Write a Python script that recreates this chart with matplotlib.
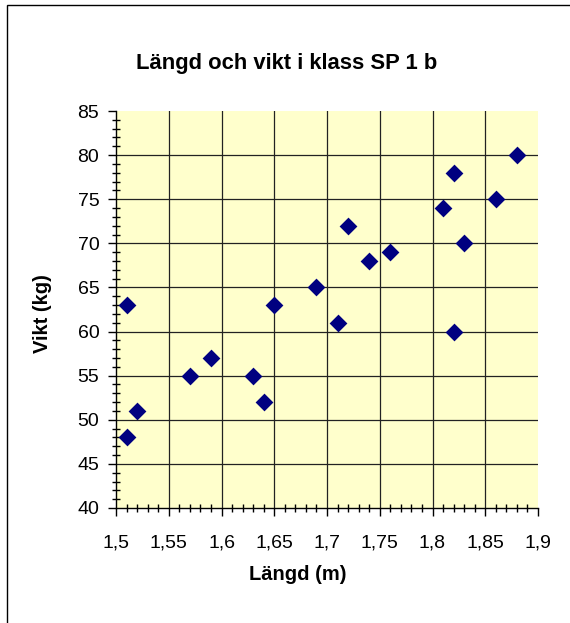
import numpy as np
import matplotlib
matplotlib.use("Agg")
import matplotlib.pyplot as plt
from matplotlib.ticker import MultipleLocator, FuncFormatter
from matplotlib.patches import Rectangle

plt.rcParams['font.family'] = ['Liberation Sans', 'DejaVu Sans']

# Längd (m) och vikt (kg) för eleverna
langd = [1.51, 1.51, 1.52, 1.57, 1.59, 1.63, 1.64, 1.65, 1.69, 1.71,
         1.72, 1.74, 1.76, 1.81, 1.82, 1.82, 1.83, 1.86, 1.88]
vikt = [63, 48, 51, 55, 57, 55, 52, 63, 65, 61,
        72, 68, 69, 74, 78, 60, 70, 75, 80]

title = "Längd och vikt i klass SP 1 b"
xlabel = "Längd (m)"
ylabel = "Vikt (kg)"

fig = plt.figure(figsize=(5.7, 6.23), dpi=100)
ax = fig.add_axes([116/570, 1 - 508/623, (538 - 116)/570, (508 - 111)/623])

ax.set_facecolor('#FFFFCC')
ax.scatter(langd, vikt, marker='D', s=82, color='#000080', zorder=3,
           clip_on=False, linewidths=0)

ax.set_xlim(1.5, 1.9)
ax.set_ylim(40, 85)

ax.xaxis.set_major_locator(MultipleLocator(0.05))
ax.xaxis.set_minor_locator(MultipleLocator(0.01))
ax.yaxis.set_major_locator(MultipleLocator(5))
ax.yaxis.set_minor_locator(MultipleLocator(1))

comma = FuncFormatter(lambda v, p: f"{v:g}".replace('.', ','))
ax.xaxis.set_major_formatter(comma)
ax.yaxis.set_major_formatter(FuncFormatter(lambda v, p: f"{v:.0f}"))

ax.tick_params(which='major', direction='out', length=6, width=1,
               color='black', labelsize=14)
ax.tick_params(which='minor', direction='inout', length=6, width=1,
               color='black')
ax.tick_params(axis='x', which='major', pad=13)
ax.tick_params(axis='y', which='major', pad=6)

ax.grid(True, which='major', color='#222222', linewidth=0.9)
ax.set_axisbelow(True)
# Excel draws no gridline at the top/right edge
xt = ax.xaxis.get_major_ticks()
yt = ax.yaxis.get_major_ticks()
for t, v in zip(xt, ax.get_xticks()):
    if np.isclose(v, 1.9) or np.isclose(v, 1.5):
        t.gridline.set_visible(False)
for t, v in zip(yt, ax.get_yticks()):
    if np.isclose(v, 85) or np.isclose(v, 40):
        t.gridline.set_visible(False)

for s in ['top', 'right']:
    ax.spines[s].set_visible(False)
for s in ['left', 'bottom']:
    ax.spines[s].set_color('black')
    ax.spines[s].set_linewidth(1)

fig.text(287/570, 1 - 63/623, title, ha='center', va='center',
         fontsize=15.8, fontweight='bold')
fig.text(298/570, 1 - 575/623, xlabel, ha='center', va='center',
         fontsize=14.5, fontweight='bold')
fig.text(43/570, 1 - 314/623, ylabel, ha='center', va='center',
         fontsize=14.5, fontweight='bold', rotation=90)

# chart area border (cut off at right and bottom)
fig.patches.append(Rectangle((7/570, -0.1), 1.2, 1.1 - 5/623,
                             transform=fig.transFigure, fill=False,
                             edgecolor='black', linewidth=1))

fig.savefig("out.png", dpi=100)
